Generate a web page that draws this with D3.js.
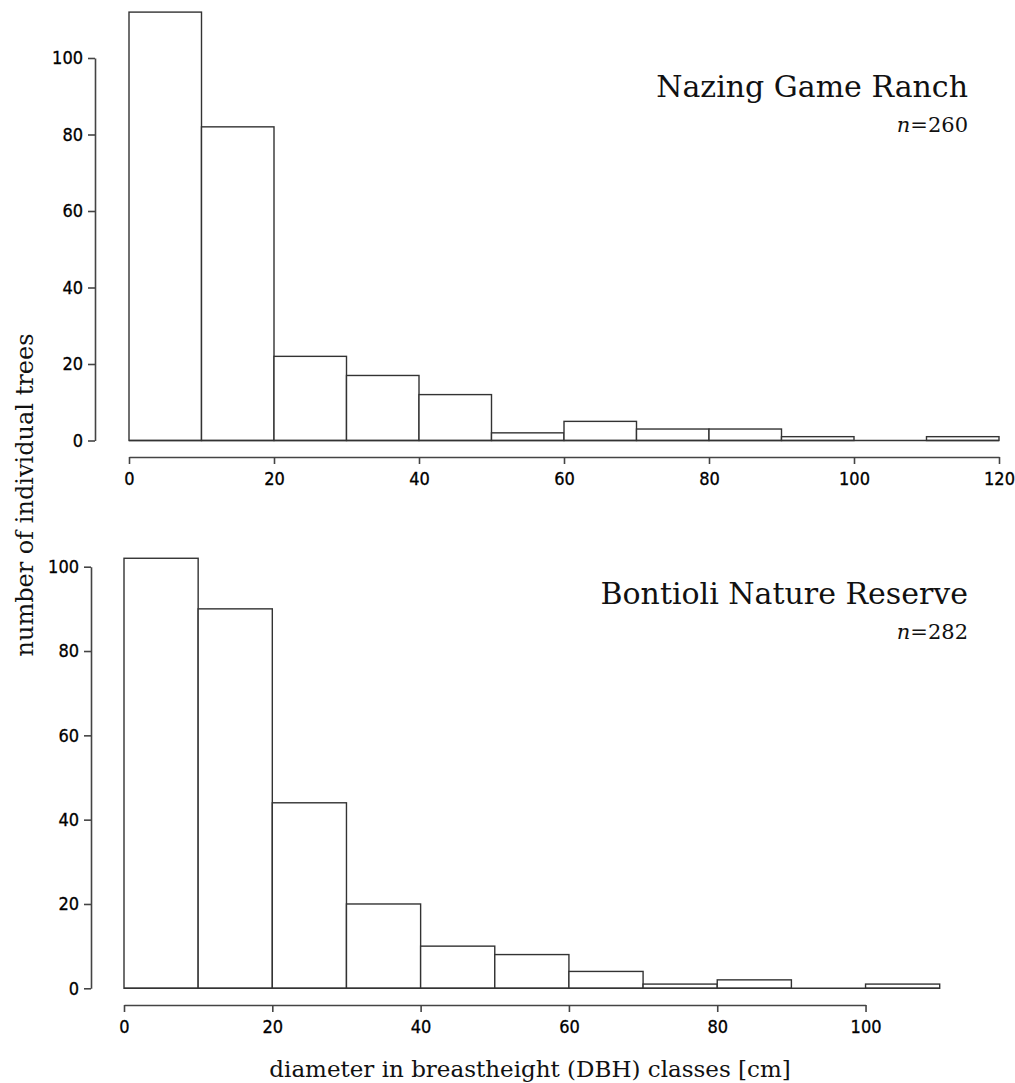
<!DOCTYPE html>
<html><head><meta charset="utf-8">
<script src="https://cdn.jsdelivr.net/npm/d3@7"></script>
<style>body{margin:0;background:#fff}</style>
</head><body>
<svg id="c" width="1015" height="1083"></svg>
<script>
// Data
const topBinStarts = [0,10,20,30,40,50,60,70,80,90,100,110];
const topCounts    = [112,82,22,17,12,2,5,3,3,1,0,1];
const botBinStarts = [0,10,20,30,40,50,60,70,80,90,100];
const botCounts    = [102,90,44,20,10,8,4,1,2,0,1];
const binWidth = 10;
const yTicks = [0,20,40,60,80,100];
const topXTicks = [0,20,40,60,80,100,120];
const botXTicks = [0,20,40,60,80,100];
const topTitle = "Nazing Game Ranch", topN = "260";
const botTitle = "Bontioli Nature Reserve", botN = "282";
const yLabel = "number of individual trees";
const xLabel = "diameter in breastheight (DBH) classes [cm]";

const svg = d3.select("#c");
const tickFont = "'Liberation Sans Narrow','Arial Narrow','DejaVu Sans Condensed',sans-serif";
const serif = "'Book Antiqua','Palatino Linotype','DejaVu Serif','Liberation Serif',serif";

function panel(o){
  const g = svg.append("g");
  const x = d3.scaleLinear().domain([0,o.xmax]).range([o.x0,o.x1]);
  const y = d3.scaleLinear().domain([0,100]).range([o.y0,o.y1]);
  g.selectAll("rect").data(o.starts.map((s,i)=>({s,c:o.counts[i]}))).join("rect")
    .attr("x",d=>x(d.s)).attr("width",d=>x(d.s+binWidth)-x(d.s))
    .attr("y",d=>y(d.c)).attr("height",d=>y(0)-y(d.c))
    .attr("fill","#fff").attr("stroke","#333").attr("stroke-width",1.4);
  g.append("line").attr("x1",x(0)).attr("x2",x(o.xmax)).attr("y1",y(0)).attr("y2",y(0))
    .attr("stroke","#333").attr("stroke-width",1.6);
  const ya = g.append("g").attr("transform",`translate(${o.yAxisX},0)`)
    .call(d3.axisLeft(y).tickValues(yTicks).tickSize(7).tickSizeOuter(0).tickPadding(5));
  const xa_scale = x.copy().domain([0,o.xAxisMax]).range([x(0),x(o.xAxisMax)]);
  const xa = g.append("g").attr("transform",`translate(0,${o.xAxisY})`)
    .call(d3.axisBottom(xa_scale).tickValues(o.xTicks).tickSize(7).tickSizeOuter(0).tickPadding(8));
  [ya,xa].forEach(a=>{
    a.selectAll("path,line").attr("stroke","#444").attr("stroke-width",1.6);
    a.selectAll("text").attr("font-family",tickFont).attr("font-size",18).attr("fill","#000")
      .attr("stroke","#000").attr("stroke-width",0.3);
  });
  g.append("text").attr("x",968).attr("y",o.titleY).attr("text-anchor","end")
    .attr("font-family",serif).attr("font-size",30).attr("fill","#111").text(o.title);
  const nt = g.append("text").attr("x",968).attr("y",o.titleY+35).attr("text-anchor","end")
    .attr("font-family",serif).attr("font-size",21).attr("fill","#111");
  nt.append("tspan").attr("font-style","italic").text("n");
  nt.append("tspan").text("=" + o.n);
}

panel({starts:topBinStarts,counts:topCounts,xmax:120,xAxisMax:120,xTicks:topXTicks,
  x0:129,x1:999,y0:440.5,y1:58,yAxisX:95,xAxisY:457,titleY:97,title:topTitle,n:topN});
panel({starts:botBinStarts,counts:botCounts,xmax:110,xAxisMax:100,xTicks:botXTicks,
  x0:124,x1:939.7,y0:988.3,y1:566.7,yAxisX:91,xAxisY:1005,titleY:604,title:botTitle,n:botN});

svg.append("text").attr("transform","translate(33,495) rotate(-90)").attr("text-anchor","middle")
  .attr("font-family",serif).attr("font-size",24).attr("fill","#111").text(yLabel);
svg.append("text").attr("x",530).attr("y",1077).attr("text-anchor","middle")
  .attr("font-family",serif).attr("font-size",23).attr("fill","#111").text(xLabel);
</script>
</body></html>
